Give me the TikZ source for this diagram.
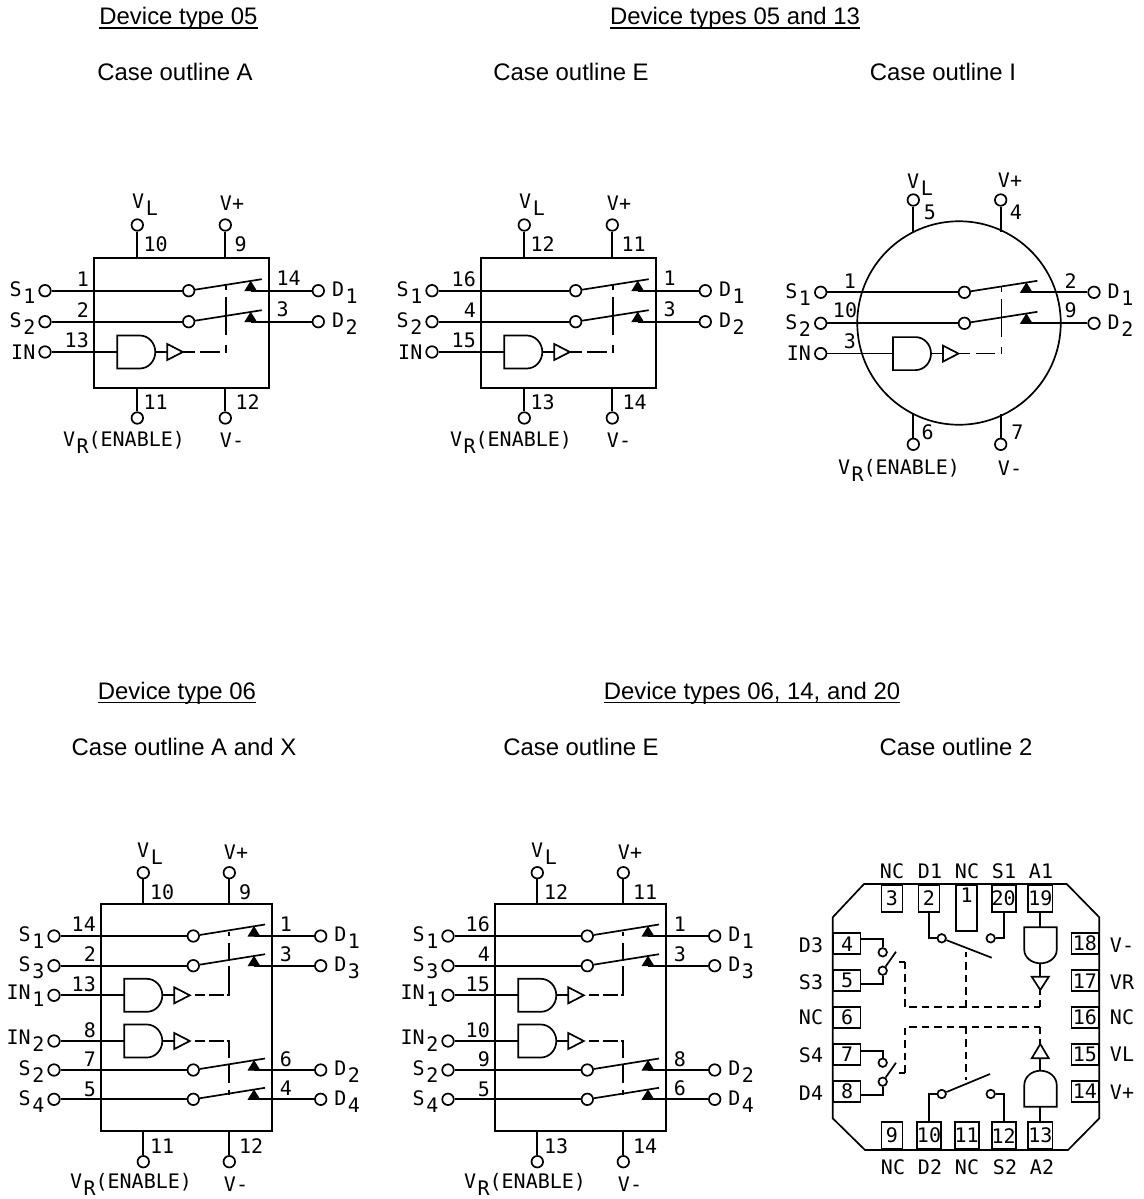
\documentclass[tikz,border=0pt]{standalone}
\usepackage{fontspec}
\setmainfont{Liberation Sans}
\newfontfamily\pinfont{DejaVu Sans Mono}
\tikzset{
  wire/.style={line width=1.7pt},
  term/.style={circle,draw,line width=1.7pt,inner sep=0pt,minimum size=11.5pt},
  smallterm/.style={circle,draw,line width=1.7pt,inner sep=0pt,minimum size=8.5pt},
  ctrla/.style={line width=1.7pt,dash pattern=on 11.7pt off 5.7pt on 19.3pt off 5.7pt on 7.3pt off 10pt on 38pt off 7pt on 6pt off 50pt},
  ctrlb/.style={line width=1.7pt,dash pattern=on 0pt off 5pt on 10pt off 4pt on 15pt off 3pt on 32pt off 5pt on 18pt off 7pt on 8pt off 50pt},
  ctrlc/.style={line width=1.7pt,dash pattern=on 0pt off 5pt on 10pt off 4pt on 15pt off 3pt on 19pt off 7pt on 18pt off 7pt on 10pt off 50pt},
  dashline/.style={line width=1.7pt,dash pattern=on 7.5pt off 5pt},
  pinnum/.style={font=\pinfont\fontsize{20}{22}\selectfont,inner sep=0pt},
  heading/.style={font=\fontsize{23.9}{26}\selectfont,inner sep=0pt,anchor=base},
  pad/.style={draw,line width=1.7pt,inner sep=0pt,minimum width=21pt,minimum height=27pt,font=\pinfont\fontsize{20}{22}\selectfont},
  sidepad/.style={pad,minimum width=27pt,minimum height=21pt}
}
\newcommand\lowsub[2]{#1\kern1.5pt\raisebox{-7pt}{#2}}
\newcommand\ruled[1]{\setbox0\hbox{#1}\rlap{\rule[-4.2pt]{\wd0}{1.7pt}}\box0}
% a switch row: tag, y, x of S, x of inner circle, x of diode, x of arm end, x of D, S label, D label
\newcommand\swrow[9]{
  \node[term] (s#1) at (#3,#2) {};
  \node[term] (c#1) at (#4,#2) {};
  \node[term] (d#1) at (#7,#2) {};
  \coordinate (e#1) at (#6,#2-11.5);
  \coordinate (t#1) at (#5,#2);
  \draw[wire] (s#1) -- (c#1);
  \draw[wire] (c#1) -- (e#1);
  \fill (#5-6.5,#2+.5) -- (#5+6.5,#2+.5) -- (#5,#2-10) -- cycle;
  \draw[wire] (t#1) -- (d#1);
  \node[pinnum,anchor=east] (ls#1) at (#3-9.5,#2+2) {#8};
  \node[pinnum,anchor=west] (ld#1) at (#7+13.5,#2+2) {#9};
}
% gate with its buffer: tag, y, x of gate, x of input, label
\newcommand\gaterow[5]{
  \node[term] (i#1) at (#4,#2) {};
  \coordinate (ga#1) at (#3,#2);
  \coordinate (gb#1) at (#3+38,#2);
  \coordinate (ba#1) at (#3+50,#2);
  \coordinate (bb#1) at (#3+65.5,#2);
  \draw[wire] (i#1) -- (ga#1);
  \draw[wire] (#3,#2-16.5) -- ++(22.5,0) arc[start angle=90,end angle=-90,x radius=15.5pt,y radius=16.5pt] -- ++(-22.5,0) -- cycle;
  \draw[wire] (gb#1) -- (ba#1);
  \draw[wire] (#3+50,#2-8) -- (bb#1) -- (#3+50,#2+8) -- cycle;
  \node[pinnum,anchor=east] (li#1) at (#4-9.5,#2) {#5};
}
% supply pin: tag, x, y on the case, y of terminal
\newcommand\supply[4]{
  \node[term] (p#1) at (#2,#4) {};
  \coordinate (q#1) at (#2,#3);
  \draw[wire] (p#1) -- (q#1);
}
% inside of the two switch parts
\newcommand\duocore{
  \swrow{a}{290.7}{45}{188.7}{250.7}{261.7}{318.3}{\lowsub{S}{1}}{\lowsub{D}{1}}
  \swrow{b}{321.7}{45}{188.7}{250.7}{261.7}{318.3}{\lowsub{S}{2}}{\lowsub{D}{2}}
  \gaterow{a}{352}{117.3}{45}{IN}
  \coordinate (k) at (225.7,352);
  \coordinate (ku) at (225.7,284);
  \draw[ctrla] (bba) -- (k) -- (ku);
}
\newcommand\duobox[9]{
  \draw[wire] (94.3,257.7) rectangle (269.3,387.7);
  \supply{vl}{137.3}{257.7}{225}
  \supply{vp}{225.3}{257.7}{225}
  \supply{vr}{137.3}{387.7}{418}
  \supply{vm}{225.3}{387.7}{418}
  \duocore
  \node[pinnum,anchor=west] (n1) at (143.5,244) {#1};
  \node[pinnum,anchor=west] (n2) at (234.5,244) {#2};
  \node[pinnum,anchor=east] (n3) at (89,279) {#3};
  \node[pinnum,anchor=east] (n4) at (89,310) {#4};
  \node[pinnum,anchor=east] (n5) at (89,340.7) {#5};
  \node[pinnum,anchor=west] (n6) at (276.5,278) {#6};
  \node[pinnum,anchor=west] (n7) at (276.5,309.3) {#7};
  \node[pinnum,anchor=west] (n8) at (143.5,402) {#8};
  \node[pinnum,anchor=west] (n9) at (235.5,402) {#9};
  \node[pinnum] (lvl) at (145,205) {\lowsub{V}{L}};
  \node[pinnum] (lvp) at (232,203) {V+};
  \node[pinnum] (lvr) at (124,442) {\lowsub{V}{R}(ENABLE)};
  \node[pinnum] (lvm) at (232,440) {V-};
}
\newcommand\quadbox[9]{
  \draw[wire] (101,904) rectangle (272.3,1131);
  \supply{vl}{143.3}{904}{872.7}
  \supply{vp}{229.3}{904}{872.7}
  \supply{vr}{143.3}{1131}{1161.7}
  \supply{vm}{229.3}{1131}{1161.7}
  \swrow{a}{936}{54}{193.3}{254}{265}{320.7}{\lowsub{S}{1}}{\lowsub{D}{1}}
  \swrow{b}{965.7}{54}{193.3}{254}{265}{320.7}{\lowsub{S}{3}}{\lowsub{D}{3}}
  \swrow{c}{1070}{54}{193.3}{254}{265}{320.7}{\lowsub{S}{2}}{\lowsub{D}{2}}
  \swrow{f}{1099.3}{54}{193.3}{254}{265}{320.7}{\lowsub{S}{4}}{\lowsub{D}{4}}
  \gaterow{a}{995.3}{124.3}{54}{\lowsub{IN}{1}}
  \gaterow{b}{1041}{124.3}{54}{\lowsub{IN}{2}}
  \coordinate (k) at (229.3,995.3);
  \coordinate (ku) at (229.3,932);
  \coordinate (m) at (229.3,1041);
  \coordinate (md) at (229.3,1095);
  \draw[ctrlb] (bba) -- (k) -- (ku);
  \draw[ctrlc] (bbb) -- (m) -- (md);
  \node[pinnum,anchor=west] (n1) at (150,892) {#1};
  \node[pinnum,anchor=west] (n2) at (239,892) {#2};
  \node[pinnum,anchor=west] (n3) at (150,1146) {#3};
  \node[pinnum,anchor=west] (n4) at (239,1146) {#4};
  \node[pinnum,anchor=east] (n5) at (96,924.5) {#5};
  \node[pinnum,anchor=east] (n6) at (96,954.5) {#6};
  \node[pinnum,anchor=east] (n7) at (96,984) {#7};
  \node[pinnum,anchor=east] (n8) at (96,1030) {#8};
  \node[pinnum,anchor=east] (n9) at (96,1059) {#9};
  \node[pinnum] (lvl) at (150,854) {\lowsub{V}{L}};
  \node[pinnum] (lvp) at (236,852) {V+};
  \node[pinnum] (lvr) at (131,1184) {\lowsub{V}{R}(ENABLE)};
  \node[pinnum] (lvm) at (236,1184) {V-};
}

\begin{document}
\begin{tikzpicture}[x=1pt,y=-1pt]
  \useasboundingbox (0,0) rectangle (1143,1199);

  % headings
  \foreach \tag/\x/\y/\txt in {ha/178.5/25/{\ruled{Device type 05}},
      hb/735/25/{\ruled{Device types 05 and 13}},
      hc/175/81/{Case outline A},hd/571/81/{Case outline E},he/943/81/{Case outline I},
      hf/177/699/{\ruled{Device type 06}},
      hg/752/699/{\ruled{Device types 06, 14, and 20}},
      hh/184/755/{Case outline A and X},hi/581/755/{Case outline E},hj/956/755/{Case outline 2}}{
    \node[heading] (\tag) at (\x,\y) {\txt};
  }

  \begin{scope}[name prefix=pa-]
    \duobox{10}{9}{1}{2}{13}{14}{3}{11}{12}
  \end{scope}
  \begin{scope}[shift={(387,0)},name prefix=pe-]
    \duobox{12}{11}{16}{4}{15}{1}{3}{13}{14}
  \end{scope}

  % round case
  \begin{scope}[shift={(775.7,1.6)},name prefix=pi-]
    \duocore
  \end{scope}
  \node[draw,circle,line width=1.7pt,inner sep=0pt,minimum size=203.5pt] (can) at (959,323) {};
  \supply{ivl}{913.3}{232}{200}
  \supply{ivp}{1000.7}{232}{200}
  \supply{ivr}{913.3}{414}{444.3}
  \supply{ivm}{1000.7}{414}{444.3}
  \foreach \tag/\x/\y/\txt in {ia/930/212.7/5,ib/1016/212.7/4,ic/850/281.7/1,id/845/310.7/10,ie/850/341.7/3,
      if/1070.7/280.7/2,ig/1070.7/310.7/9,ih/927.7/432.7/6,ij/1017.3/432.7/7}{
    \node[pinnum] (\tag) at (\x,\y) {\txt};
  }
  \node[pinnum] (ilvl) at (920,185) {\lowsub{V}{L}};
  \node[pinnum] (ilvp) at (1010,180) {V+};
  \node[pinnum] (ilvr) at (899,470) {\lowsub{V}{R}(ENABLE)};
  \node[pinnum] (ilvm) at (1010,468) {V-};

  \begin{scope}[name prefix=qa-]
    \quadbox{10}{9}{11}{12}{14}{2}{13}{8}{7}
    \foreach \tag/\x/\y/\txt in {r1/90/1089/5,r2/286/924.5/1,r3/286/954.5/3,r4/286/1059/6,r5/286/1088/4}{
      \node[pinnum] (\tag) at (\x,\y) {\txt};
    }
  \end{scope}
  \begin{scope}[shift={(394,0)},name prefix=qe-]
    \quadbox{12}{11}{13}{14}{16}{4}{15}{10}{9}
    \foreach \tag/\x/\y/\txt in {r1/90/1089/5,r2/286/924.5/1,r3/286/954.5/3,r4/286/1059/8,r5/286/1088/6}{
      \node[pinnum] (\tag) at (\x,\y) {\txt};
    }
  \end{scope}

  % flat package
  \draw[wire] (864,884) -- (1066.7,884) -- (1099.3,917.3) -- (1099.3,1118.3) -- (1068,1150) -- (865,1150) -- (832.7,1118.3) -- (832.7,917.3) -- cycle;
  \foreach \tag/\x/\txt in {3/892/3,2/929/2,20/1003.7/20,19/1040.3/19}{
    \node[pad,anchor=north] (pad\tag) at (\x,884) {\txt};
  }
  \node[pad,anchor=north,minimum height=46pt,text depth=26pt] (pad1) at (966.7,884) {1};
  \foreach \tag/\x in {9/892,10/929,11/966.7,12/1003.7,13/1040.3}{
    \node[pad,anchor=south] (pad\tag) at (\x,1150) {\tag};
  }
  \foreach \tag/\y in {4/943.7,5/980.7,6/1017.3,7/1054.3,8/1091.3}{
    \node[sidepad,anchor=west] (pad\tag) at (832.7,\y) {\tag};
  }
  \foreach \tag/\y in {18/943.7,17/980.7,16/1017.3,15/1054.3,14/1091.3}{
    \node[sidepad,anchor=east] (pad\tag) at (1099.3,\y) {\tag};
  }
  \foreach \tag/\x/\y/\txt in {la/892/871/NC,lb/930/871/D1,lc/967/871/NC,ld/1004/871/S1,le/1041/871/A1,
      lf/893/1167/NC,lg/930/1167/D2,lh/967/1167/NC,lj/1005/1167/S2,lk/1042/1167/A2,
      ll/811/945/D3,lm/811/982/S3,ln/811/1017/NC,lo/811/1055/S4,lp/811/1093/D4,
      lq/1122/945/V-,lr/1122/982/VR,ls/1122/1017/NC,lt/1122/1054/VL,lu/1122/1092/V+}{
    \node[pinnum] (\tag) at (\x,\y) {\txt};
  }

  % upper switches
  \node[smallterm] (cd1) at (941.7,938.3) {};
  \node[smallterm] (cs1) at (990.7,938.3) {};
  \coordinate (arm1) at (991.7,957.7);
  \draw[wire] (pad2.south) |- (cd1);
  \draw[wire] (pad20.south) |- (cs1);
  \draw[wire] (cd1) -- (arm1);
  \node[smallterm] (cd2) at (941.7,1094) {};
  \node[smallterm] (cs2) at (990.7,1094) {};
  \coordinate (arm2) at (990,1074);
  \draw[wire] (pad10.north) |- (cd2);
  \draw[wire] (pad12.north) |- (cs2);
  \draw[wire] (cd2) -- (arm2);

  % left switches
  \node[smallterm] (cd3) at (882.7,952.3) {};
  \node[smallterm] (cs3) at (882.7,970.7) {};
  \coordinate (arm3) at (896,951.7);
  \draw[wire] (pad4.east |- 0,939.3) -| (cd3);
  \draw[wire] (pad5.east |- 0,984) -| (cs3);
  \draw[wire] (cs3) -- (arm3);
  \node[smallterm] (cs4) at (882.7,1062.7) {};
  \node[smallterm] (cd4) at (882.7,1081.7) {};
  \coordinate (arm4) at (896,1062.7);
  \draw[wire] (pad7.east |- 0,1050.7) -| (cs4);
  \draw[wire] (pad8.east |- 0,1095) -| (cd4);
  \draw[wire] (cd4) -- (arm4);

  % gates
  \draw[wire] (1024.3,927.3) -- (1056.7,927.3) -- (1056.7,950) arc[start angle=0,end angle=-180,x radius=16.2pt,y radius=13.3pt] -- cycle;
  \draw[wire] (1040.3,911) -- (1040.3,927.3);
  \draw[wire] (1040.3,963.3) -- (1040.3,976.7);
  \draw[wire] (1031.7,976.7) -- (1048.8,976.7) -- (1040.3,990) -- cycle;
  \draw[wire] (1024.3,1106.7) -- (1056.7,1106.7) -- (1056.7,1085) arc[start angle=0,end angle=180,x radius=16.2pt,y radius=14.3pt] -- cycle;
  \draw[wire] (1040.3,1121.7) -- (1040.3,1106.7);
  \draw[wire] (1040.3,1070.7) -- (1040.3,1058.3);
  \draw[wire] (1031.7,1058.3) -- (1048.8,1058.3) -- (1040.3,1044) -- cycle;

  % control lines
  \draw[dashline] (905,961.7) -- (905,1007.3) -- (1040.3,1007.3);
  \draw[dashline] (1040.3,1007.3) -- (1040.3,990);
  \draw[dashline] (966,1007.3) -- (966,951.7);
  \draw[dashline] (905,1072.7) -- (905,1026.7) -- (1040.3,1026.7);
  \draw[dashline] (1040.3,1026.7) -- (1040.3,1044);
  \draw[dashline] (966,1026.7) -- (966,1080);
  \draw[wire] (905,961.7) -- (899,961.7);
  \draw[wire] (905,1072.7) -- (899,1072.7);
\end{tikzpicture}
\end{document}
